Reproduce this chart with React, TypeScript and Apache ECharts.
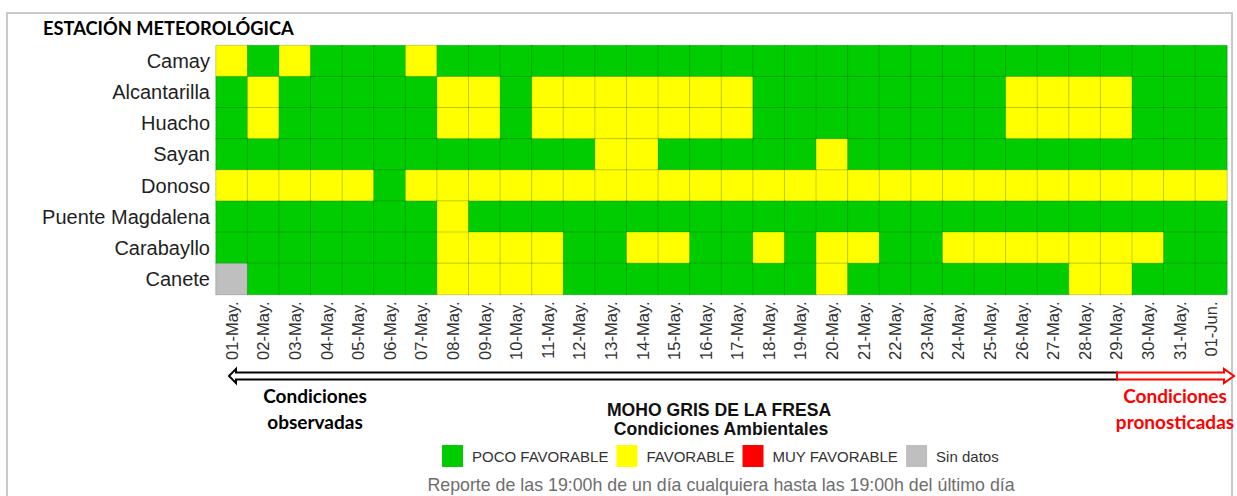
import React, { useEffect, useRef } from "react";
import * as echarts from "echarts";

const dates = [
  "01-May.", "02-May.", "03-May.", "04-May.", "05-May.", "06-May.", "07-May.", "08-May.",
  "09-May.", "10-May.", "11-May.", "12-May.", "13-May.", "14-May.", "15-May.", "16-May.",
  "17-May.", "18-May.", "19-May.", "20-May.", "21-May.", "22-May.", "23-May.", "24-May.",
  "25-May.", "26-May.", "27-May.", "28-May.", "29-May.", "30-May.", "31-May.", "01-Jun.",
];

const stations = [
  "Camay", "Alcantarilla", "Huacho", "Sayan", "Donoso", "Puente Magdalena", "Carabayllo", "Canete",
];

// 0 = POCO FAVORABLE, 1 = FAVORABLE, 2 = MUY FAVORABLE, 3 = Sin datos
const camay = [1,0,1,0,0,0,1,0,0,0,0,0,0,0,0,0,0,0,0,0,0,0,0,0,0,0,0,0,0,0,0,0];
const alcantarilla = [0,1,0,0,0,0,0,1,1,0,1,1,1,1,1,1,1,0,0,0,0,0,0,0,0,1,1,1,1,0,0,0];
const huacho = [0,1,0,0,0,0,0,1,1,0,1,1,1,1,1,1,1,0,0,0,0,0,0,0,0,1,1,1,1,0,0,0];
const sayan = [0,0,0,0,0,0,0,0,0,0,0,0,1,1,0,0,0,0,0,1,0,0,0,0,0,0,0,0,0,0,0,0];
const donoso = [1,1,1,1,1,0,1,1,1,1,1,1,1,1,1,1,1,1,1,1,1,1,1,1,1,1,1,1,1,1,1,1];
const puenteMagdalena = [0,0,0,0,0,0,0,1,0,0,0,0,0,0,0,0,0,0,0,0,0,0,0,0,0,0,0,0,0,0,0,0];
const carabayllo = [0,0,0,0,0,0,0,1,1,1,1,0,0,1,1,0,0,1,0,1,1,0,0,1,1,1,1,1,1,1,0,0];
const canete = [3,0,0,0,0,0,0,1,1,1,1,0,0,0,0,0,0,0,0,1,0,0,0,0,0,0,0,1,1,0,0,0];

const stationValues = [camay, alcantarilla, huacho, sayan, donoso, puenteMagdalena, carabayllo, canete];

const levelLabels = ["POCO FAVORABLE", "FAVORABLE", "MUY FAVORABLE", "Sin datos"];
const levelColors = ["#00cc00", "#ffff00", "#ff0000", "#bfbfbf"];

const ARIAL = "'Liberation Sans', Arial, sans-serif";
const CALIBRI = "Lato, 'Open Sans', sans-serif";

export default function App() {
  const ref = useRef<HTMLDivElement>(null);

  useEffect(() => {
    if (!ref.current) return;
    const chart = echarts.init(ref.current, undefined, { renderer: "svg" });

    const data: number[][] = [];
    stationValues.forEach((row, s) => {
      row.forEach((v, d) => data.push([d, s, v]));
    });

    const arrowY = 376;
    const shaftH = 3.5;
    const headH = 7;

    chart.setOption({
      animation: false,
      backgroundColor: "#ffffff",
      grid: { left: 216, right: 10, top: 45.5, bottom: 201.5, containLabel: false },
      xAxis: {
        type: "category",
        data: dates,
        axisLine: { show: false },
        axisTick: { show: false },
        splitLine: { show: false },
        axisLabel: {
          rotate: 90,
          margin: 7,
          interval: 0,
          fontSize: 16.5,
          color: "#333333",
          fontFamily: ARIAL,
        },
      },
      yAxis: {
        type: "category",
        data: stations,
        inverse: true,
        axisLine: { show: false },
        axisTick: { show: false },
        splitLine: { show: false },
        axisLabel: {
          margin: 6,
          interval: 0,
          fontSize: 20,
          color: "#1f1f1f",
          fontFamily: ARIAL,
        },
      },
      visualMap: {
        type: "piecewise",
        dimension: 2,
        orient: "horizontal",
        align: "left",
        left: 427,
        top: 430,
        itemWidth: 21,
        itemHeight: 22,
        itemGap: 8,
        textGap: 9,
        itemSymbol: "rect",
        selectedMode: false,
        textStyle: { fontSize: 15, color: "#333333", fontFamily: ARIAL },
        pieces: levelLabels.map((label, i) => ({ value: i, label, color: levelColors[i] })),
      },
      series: [
        {
          type: "heatmap",
          data,
          itemStyle: { borderColor: "rgba(0,60,0,0.22)", borderWidth: 1 },
          emphasis: { disabled: true },
        },
      ],
      graphic: [
        {
          type: "rect",
          z: 0,
          shape: { x: 7, y: 13, width: 1225, height: 520 },
          style: { fill: "none", stroke: "#c9c9c9", lineWidth: 2 },
        },
        {
          type: "text",
          left: 43,
          top: 19,
          style: {
            text: "ESTACIÓN METEOROLÓGICA",
            font: `bold 18.3px ${CALIBRI}`,
            fill: "#000000",
          },
        },
        {
          type: "polygon",
          shape: {
            points: [
              [229, arrowY],
              [236, arrowY - headH],
              [236, arrowY - shaftH],
              [1117, arrowY - shaftH],
              [1117, arrowY + shaftH],
              [236, arrowY + shaftH],
              [236, arrowY + headH],
            ],
          },
          style: { fill: "#ffffff", stroke: "#000000", lineWidth: 2 },
        },
        {
          type: "polygon",
          shape: {
            points: [
              [1117, arrowY - shaftH],
              [1224, arrowY - shaftH],
              [1224, arrowY - headH],
              [1234, arrowY],
              [1224, arrowY + headH],
              [1224, arrowY + shaftH],
              [1117, arrowY + shaftH],
            ],
          },
          style: { fill: "#ffffff", stroke: "#ff0000", lineWidth: 2 },
        },
        {
          type: "text",
          x: 315,
          y: 408,
          style: {
            text: "Condiciones\nobservadas",
            font: `bold 19px ${CALIBRI}`,
            fill: "#000000",
            align: "center",
            verticalAlign: "middle",
            lineHeight: 26,
          },
        },
        {
          type: "text",
          x: 1175,
          y: 408,
          style: {
            text: "Condiciones\npronosticadas",
            font: `bold 19px ${CALIBRI}`,
            fill: "#ff0000",
            align: "center",
            verticalAlign: "middle",
            lineHeight: 26,
          },
        },
        {
          type: "text",
          x: 719,
          y: 410,
          style: {
            text: "MOHO GRIS DE LA FRESA",
            font: `bold 17.6px ${ARIAL}`,
            fill: "#111111",
            align: "center",
            verticalAlign: "middle",
          },
        },
        {
          type: "text",
          x: 721,
          y: 429,
          style: {
            text: "Condiciones Ambientales",
            font: `bold 17.6px ${ARIAL}`,
            fill: "#111111",
            align: "center",
            verticalAlign: "middle",
          },
        },
        {
          type: "text",
          x: 721,
          y: 485,
          style: {
            text: "Reporte de las 19:00h de un día cualquiera hasta las 19:00h del último día",
            font: `17.8px ${ARIAL}`,
            fill: "#6e6e6e",
            align: "center",
            verticalAlign: "middle",
          },
        },
      ],
    });

    return () => chart.dispose();
  }, []);

  return (
    <div
      ref={ref}
      style={{ position: "fixed", left: 0, top: 0, width: 1237, height: 496, background: "#fff" }}
    />
  );
}
